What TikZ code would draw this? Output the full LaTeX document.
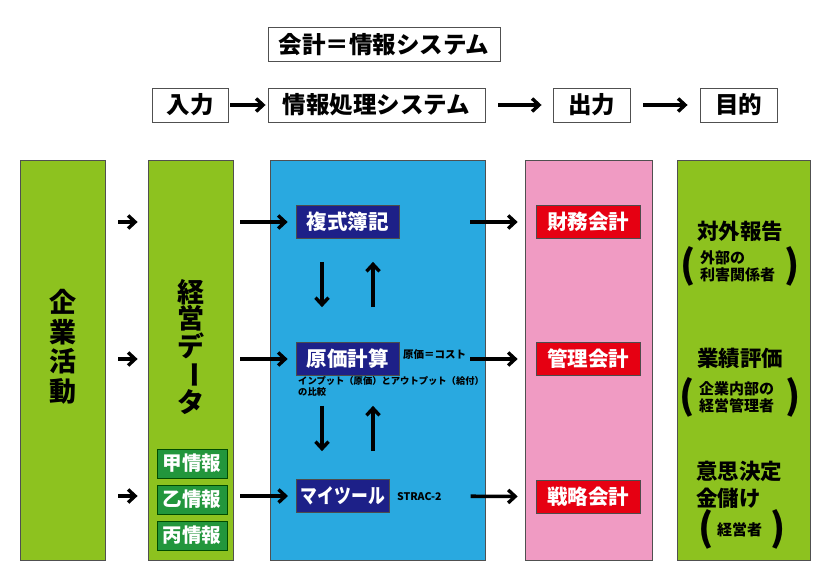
\documentclass[tikz,border=0pt]{standalone}
\usepackage{fontspec}
\usepackage{graphicx}
\setmainfont{Noto Sans CJK JP}[BoldFont={Noto Sans CJK JP Black}]
\usetikzlibrary{arrows.meta}
\definecolor{cgreen}{RGB}{141,194,31}
\definecolor{cblue}{RGB}{41,169,224}
\definecolor{cpink}{RGB}{240,155,195}
\definecolor{cnavy}{RGB}{29,32,136}
\definecolor{cred}{RGB}{230,0,18}
\definecolor{cdgreen}{RGB}{34,150,60}
\definecolor{cborder}{RGB}{80,80,80}
\tikzset{
  column/.style={draw=cborder, line width=0.8pt, minimum height=400pt, inner sep=0pt},
  hbox/.style={draw=cborder, line width=0.9pt, fill=white, minimum height=34pt, inner sep=0pt, font=\fontsize{23.5}{25}\selectfont\bfseries},
  navybox/.style={draw=black!70, line width=0.7pt, fill=cnavy, text=white, minimum height=33pt, inner sep=0pt, font=\fontsize{20.5}{22}\selectfont\bfseries},
  redbox/.style={draw=black!70, line width=0.7pt, fill=cred, text=white, minimum width=104pt, minimum height=33pt, inner sep=0pt, font=\fontsize{20.5}{22}\selectfont\bfseries},
  gbox/.style={draw=black!70!green, line width=0.7pt, fill=cdgreen, text=white, minimum width=70pt, minimum height=29pt, inner sep=0pt, font=\fontsize{19.5}{21}\selectfont\bfseries},
  arr/.style={line width=3.6pt, -{Straight Barb[length=7pt,width=13pt,line width=3.4pt]}},
  vtext/.style={align=center, inner sep=0pt, font=\fontsize{27}{29.5}\selectfont\bfseries},
  rtext/.style={inner sep=0pt, font=\fontsize{21.5}{23}\selectfont\bfseries},
  stext/.style={inner sep=0pt, align=left, anchor=west, font=\fontsize{15}{17}\selectfont\bfseries},
  paren/.style={inner sep=0pt, font=\fontsize{38}{38}\selectfont\bfseries},
  note/.style={inner sep=0pt, anchor=west, font=\fontsize{9.3}{11.5}\selectfont\bfseries}
}
\begin{document}
\begin{tikzpicture}[x=1pt,y=-1pt]
\useasboundingbox (0,0) rectangle (819,578);
% header
\node[hbox, minimum width=232pt] (title) at (384,44.5) {会計＝情報システム};
\node[hbox, minimum width=76pt] (in) at (190,105) {入力};
\node[hbox, minimum width=217pt] (proc) at (376.5,105) {情報処理システム};
\node[hbox, minimum width=77pt] (out) at (591.5,105) {出力};
\node[hbox, minimum width=77pt] (goal) at (738.5,105) {目的};
\draw[arr, shorten <=2pt, shorten >=2pt] (in) -- (proc);
\draw[arr, shorten <=13pt, shorten >=11pt] (proc) -- (out);
\draw[arr, shorten <=13pt, shorten >=12pt] (out) -- (goal);
% columns
\node[column, fill=cgreen, minimum width=85pt] (c1) at (62.5,360) {};
\node[column, fill=cgreen, minimum width=85pt] (c2) at (190.5,360) {};
\node[column, fill=cblue, minimum width=215pt] (c3) at (377.5,360) {};
\node[column, fill=cpink, minimum width=127pt] (c4) at (588.5,360) {};
\node[column, fill=cgreen, minimum width=133pt] (c5) at (743.5,360) {};
% column 1 & 2 text
\node[vtext] (t1) at (62.5,347) {企\\業\\活\\動};
\node[vtext, font=\fontsize{27}{25.5}\selectfont\bfseries] (t2) at (190.5,347) {経\\営\\デ\\\rotatebox[origin=c]{-90}{ー}\\タ};
\node[gbox] (g1) at (192,463.5) {甲情報};
\node[gbox] (g2) at (192,499.5) {乙情報};
\node[gbox] (g3) at (192,535.5) {丙情報};
% column 3 boxes
\node[navybox, minimum width=103pt] (fb) at (347.5,222) {複式簿記};
\node[navybox, minimum width=103pt] (gk) at (347.5,359) {原価計算};
\node[navybox, minimum width=93pt, anchor=west] (my) at (296,496) {\scalebox{0.82}[1]{マイツール}};
\node[note, font=\fontsize{10.5}{12}\selectfont\bfseries] (n1) at (403,355) {原価＝コスト};
\node[note, align=left, anchor=north west] (n2) at (298,376) {インプット（原価）とアウトプット（給付）\\の比較};
\node[note, font=\fontsize{10.5}{12}\selectfont\bfseries] (n3) at (397,497) {STRAC-2};
% column 4 boxes
\node[redbox] (zm) at (588,222) {財務会計};
\node[redbox] (kr) at (588,359) {管理会計};
\node[redbox] (sr) at (588,496.5) {戦略会計};
% column 5 text
\node[rtext] (r1) at (740,231) {対外報告};
\node[stext] (r1a) at (700,266.5) {外部の\\利害関係者};
\node[paren] (p1l) at (688,266) {(};
\node[paren] (p1r) at (792,266) {)};
\node[rtext] (r2) at (740,358) {業績評価};
\node[stext] (r2a) at (699,397.5) {企業内部の\\経営管理者};
\node[paren] (p2l) at (687,397) {(};
\node[paren] (p2r) at (793,397) {)};
\node[rtext, anchor=west] (r3) at (696,471) {意思決定};
\node[rtext, anchor=west] (r3b) at (696,498) {金儲け};
\node[stext] (r3a) at (717,530) {経営者};
\node[paren] (p3l) at (706,529) {(};
\node[paren] (p3r) at (778,529) {)};
% arrows col1 -> col2
\draw[arr, shorten <=13pt, shorten >=10pt] (c1.east |- fb) -- (c2.west |- fb);
\draw[arr, shorten <=13pt, shorten >=10pt] (c1.east |- gk) -- (c2.west |- gk);
\draw[arr, shorten <=13pt, shorten >=10pt] (c1.east |- my) -- (c2.west |- my);
% arrows col2 -> col3
\draw[arr, shorten <=7pt, shorten >=8pt] (c2.east |- fb) -- (fb.west);
\draw[arr, shorten <=7pt, shorten >=8pt] (c2.east |- gk) -- (gk.west);
\draw[arr, shorten <=7pt, shorten >=8pt] (c2.east |- my) -- (my.west);
% arrows col3 -> col4
\draw[arr, shorten <=71pt, shorten >=18pt] (fb.east) -- (zm.west);
\draw[arr, shorten <=71pt, shorten >=18pt] (gk.east) -- (kr.west);
\draw[arr, shorten <=81pt, shorten >=18pt] (my.east) -- (sr.west);
% vertical arrows
\draw[arr, shorten <=23pt, shorten >=35pt] ([xshift=-25.5pt]fb.south) -- ([xshift=-25.5pt]gk.north);
\draw[arr, shorten <=35pt, shorten >=23pt] ([xshift=25.5pt]gk.north) -- ([xshift=25.5pt]fb.south);
\draw[arr, shorten <=30pt, shorten >=28pt] ([xshift=-25.5pt]gk.south) -- ([xshift=-25.5pt]gk.south |- my.north);
\draw[arr, shorten <=28pt, shorten >=30pt] ([xshift=25.5pt]gk.south |- my.north) -- ([xshift=25.5pt]gk.south);
\end{tikzpicture}
\end{document}
